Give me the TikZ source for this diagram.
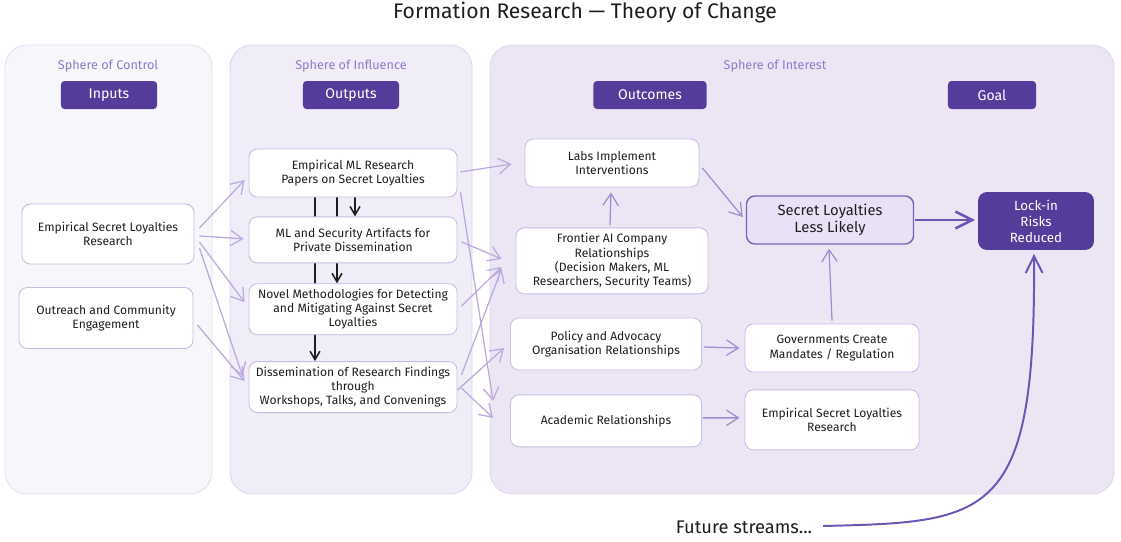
\documentclass[tikz,border=0pt]{standalone}
\usepackage{fontspec}
\setmainfont{Fira Sans}
\usetikzlibrary{arrows.meta,positioning,calc,backgrounds}
\definecolor{Ink}{HTML}{1E1E1E}
\definecolor{SphereText}{HTML}{8C7CC4}
\definecolor{HeaderPurple}{HTML}{553C9A}
\definecolor{CardEdge}{HTML}{C7BCE2}
\definecolor{KeyFill}{HTML}{E9E2F6}
\definecolor{KeyEdge}{HTML}{7B61BC}
\definecolor{FeedLine}{HTML}{BBAADC}
\definecolor{LinkLine}{HTML}{A08DD0}
\definecolor{PushLine}{HTML}{6E54B4}
\definecolor{ControlFill}{HTML}{F7F6FA}
\definecolor{ControlEdge}{HTML}{E3DFEE}
\definecolor{InfluenceFill}{HTML}{F0ECF8}
\definecolor{InfluenceEdge}{HTML}{DED6EF}
\definecolor{InterestFill}{HTML}{ECE6F4}
\definecolor{InterestEdge}{HTML}{DFD6ED}
\pgfdeclarelayer{links}
\pgfsetlayers{background,links,main}

\begin{document}
\begin{tikzpicture}[x=0.025cm,y=-0.025cm,
  sphere/.style={rounded corners=0.55cm,line width=0.6pt},
  spheretitle/.style={font=\fontsize{9}{11}\selectfont,text=SphereText},
  header/.style={rectangle,rounded corners=2.5pt,fill=HeaderPurple,text=white,
                 minimum height=0.7cm,font=\fontsize{10}{12}\selectfont},
  card/.style={rectangle,rounded corners=6pt,draw=CardEdge,fill=white,line width=0.6pt,
               align=center,inner sep=2pt,font=\fontsize{8.6}{10.2}\selectfont,text=Ink},
  keycard/.style={card,fill=KeyFill,draw=KeyEdge,line width=1pt,font=\fontsize{10.5}{12}\selectfont},
  goalcard/.style={card,fill=HeaderPurple,draw=HeaderPurple,text=white,font=\fontsize{9.5}{11.4}\selectfont},
  feed/.style={draw=FeedLine,line width=0.9pt,-{Straight Barb[length=8.5pt,width=11pt]}},
  link/.style={feed,draw=LinkLine},
  seq/.style={draw=Ink,line width=1.1pt,-{Straight Barb[length=6pt,width=7pt]}},
  push/.style={draw=PushLine,line width=1.8pt,-{Straight Barb[length=12pt,width=12pt]}},
  node distance=0.5cm
]
\useasboundingbox (0,0) rectangle (1121,541);

% title
\node[font=\fontsize{15}{17}\selectfont,text=Ink] (title) at (585,13) {Formation Research — Theory of Change};

% spheres
\begin{scope}[on background layer]
\draw[sphere,fill=ControlFill,draw=ControlEdge] (5,45) rectangle (212,494);
\draw[sphere,fill=InfluenceFill,draw=InfluenceEdge] (230,45) rectangle (472,494);
\draw[sphere,fill=InterestFill,draw=InterestEdge] (490,45) rectangle (1114,494);
\end{scope}
\node[spheretitle] (sControl) at (108,66) {Sphere of Control};
\node[spheretitle] (sInfluence) at (351,66) {Sphere of Influence};
\node[spheretitle] (sInterest) at (775,66) {Sphere of Interest};

% column headers
\node[header,minimum width=2.4cm] (hInputs) at (109,95) {Inputs};
\node[header,minimum width=2.4cm] (hOutputs) at (351,95) {Outputs};
\node[header,minimum width=2.825cm] (hOutcomes) at (650,95) {Outcomes};
\node[header,minimum width=2.2cm] (hGoal) at (992,95) {Goal};

% inputs
\node[card,minimum width=4.3cm,minimum height=1.5cm] (inResearch) at (108,234)
  {Empirical Secret Loyalties\\Research};
\node[card,minimum width=4.35cm,minimum height=1.525cm] (inOutreach) at (106,318)
  {Outreach and Community\\Engagement};

% outputs
\node[card,minimum width=5.2cm,minimum height=1.2cm] (outPapers) at (353,173)
  {Empirical ML Research\\Papers on Secret Loyalties};
\node[card,minimum width=5.2cm,minimum height=1.15cm,below=0.475cm of outPapers] (outArtifacts)
  {ML and Security Artifacts for\\Private Dissemination};
\node[card,minimum width=5.2cm,minimum height=1.275cm,below=0.5cm of outArtifacts] (outMethods)
  {Novel Methodologies for Detecting\\and Mitigating Against Secret\\Loyalties};
\node[card,minimum width=5.2cm,minimum height=1.275cm,below=0.65cm of outMethods] (outDissem)
  {Dissemination of Research Findings\\through\\Workshops, Talks, and Convenings};

% outcomes
\node[card,minimum width=4.35cm,minimum height=1.2cm] (ocLabs) at (612,163)
  {Labs Implement\\Interventions};
\node[card,minimum width=4.8cm,minimum height=1.65cm,below=1cm of ocLabs] (ocFrontier)
  {Frontier AI Company\\Relationships\\(Decision Makers, ML\\Researchers, Security Teams)};
\node[card,minimum width=4.775cm,minimum height=1.3cm] (ocPolicy) at (606,344)
  {Policy and Advocacy\\Organisation Relationships};
\node[card,minimum width=4.775cm,minimum height=1.3cm,below=0.6cm of ocPolicy] (ocAcademic)
  {Academic Relationships};
\node[keycard,minimum width=4.175cm,minimum height=1.2cm] (ocLess) at (830,220)
  {Secret Loyalties\\Less Likely};
\node[card,minimum width=4.35cm,minimum height=1.2cm] (ocGov) at (832,348)
  {Governments Create\\Mandates / Regulation};
\node[card,minimum width=4.35cm,minimum height=1.5cm,below=0.425cm of ocGov] (ocEmpirical)
  {Empirical Secret Loyalties\\Research};

% goal
\node[goalcard,minimum width=2.875cm,minimum height=1.425cm] (goalLockin) at (1036,221)
  {Lock-in\\Risks\\Reduced};

\node[font=\fontsize{13}{15}\selectfont,text=Ink] (future) at (744,527) {Future streams...};

\begin{pgfonlayer}{links}
% inputs to outputs
\draw[feed] ($(inResearch.east)+(5,-6)$) -- ($(outPapers.west)+(-4,7)$);
\draw[feed] ($(inResearch.east)+(5,2)$) -- ($(outArtifacts.west)+(-5,-1)$);
\draw[feed] ($(inResearch.east)+(5,8)$) -- ($(outMethods.west)+(-4,-7)$);
\draw[feed] ($(inResearch.east)+(5,14)$) -- ($(outDissem.west)+(-6,-11)$);
\draw[feed] ($(inOutreach.east)+(4,7)$) -- ($(outDissem.west)+(-4,-6)$);
% between outputs
\draw[seq] ($(outPapers.south)+(2,0)$) -- ($(outArtifacts.north)+(2,0)$);
\draw[seq] ($(outPapers.south)+(-16,0)$) -- ($(outMethods.north)+(-16,0)$);
\draw[seq] ($(outPapers.south)+(-38,0)$) -- ($(outDissem.north)+(-38,0)$);
% outputs to outcomes
\draw[feed] ($(outPapers.east)+(3,-1)$) -- ($(ocLabs.west)+(-13,1)$);
\draw[feed] ($(outPapers.east)+(3,19)$) -- ($(ocAcademic.west)+(-17,-20)$);
\draw[feed] ($(outArtifacts.east)+(4,2)$) -- ($(ocFrontier.west)+(-14,-2)$);
\draw[feed] ($(outMethods.east)+(4,-3)$) -- ($(ocFrontier.west)+(-14,6)$);
\draw[feed] ($(outDissem.east)+(4,-12)$) -- ($(ocFrontier.west)+(-14,8)$);
\draw[feed] ($(outDissem.east)+(0,3)$) -- ($(ocPolicy.west)+(-6,4)$);
\draw[feed] ($(outDissem.east)+(4,1)$) -- ($(ocAcademic.west)+(-17,-3)$);
% within outcomes
\draw[link] ($(ocFrontier.north)+(-2,-2)$) -- ($(ocLabs.south)+(-1,5)$);
\draw[link] ($(ocLabs.east)+(3,5)$) -- ($(ocLess.west)+(-3,-3)$);
\draw[link] ($(ocGov.north)+(0,-3)$) -- ($(ocLess.south)+(-1,4)$);
\draw[link] ($(ocPolicy.east)+(2,3)$) -- ($(ocGov.west)+(-5,0)$);
\draw[link] ($(ocAcademic.east)+(1,-3)$) -- ($(ocEmpirical.west)+(-5,-2)$);
% to the goal
\draw[push] ($(ocLess.east)+(1,0)$) -- ($(goalLockin.west)+(-3,-1)$);
\draw[push,line width=1.4pt] ($(future.east)+(6,-1)$) .. controls (990,522) and (1036,520) .. ($(goalLockin.south)+(-2,4)$);
\end{pgfonlayer}
\end{tikzpicture}
\end{document}
